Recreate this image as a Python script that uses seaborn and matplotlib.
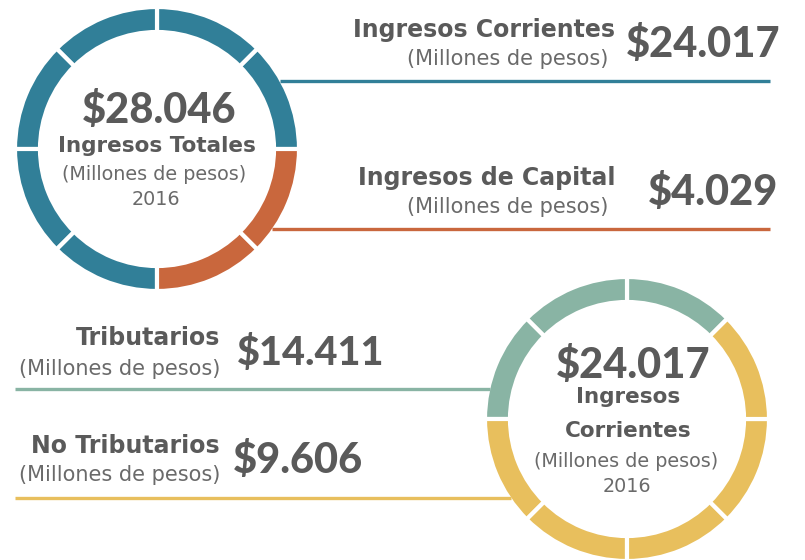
import numpy as np
import matplotlib
matplotlib.use("Agg")
import matplotlib.pyplot as plt
import seaborn as sns

total_valor = "$28.046"
corrientes_valor = "$24.017"
capital_valor = "$4.029"
tributarios_valor = "$14.411"
no_tributarios_valor = "$9.606"
anio = "2016"
unidad = "(Millones de pesos)"

# ring segments (8 per ring), counted from the start angle, anticlockwise
totales_colores = ["#317f98", "#c9673d"]          # Corrientes, Capital
totales_segmentos = [6, 2]
totales_inicio = 0
corrientes_colores = ["#89b4a4", "#e8bf5d"]       # Tributarios, No tributarios
corrientes_segmentos = [3, 5]
corrientes_inicio = 45

GRIS = "#5a5a5a"
GRIS_CLARO = "#6a6a6a"
H = 560

sns.set_theme(style="white")
plt.rcParams["font.family"] = ["DejaVu Sans"]
NUM_FONT = ["Lato", "DejaVu Sans"]

fig = plt.figure(figsize=(8.05, 5.6), dpi=100)
ax = fig.add_axes([0, 0, 1, 1])
ax.set_xlim(0, 805)
ax.set_ylim(0, H)
ax.set_aspect("equal")
ax.axis("off")


def anillo(cx, cy, colores, segmentos, inicio, r=142, ancho=25):
    cols = []
    for c, n in zip(colores, segmentos):
        cols += [c] * n
    ax.pie([1] * len(cols), colors=cols, startangle=inicio, counterclock=True,
           center=(cx, H - cy), radius=r, frame=True,
           wedgeprops=dict(width=ancho, edgecolor="white", linewidth=3))


def linea(x0, x1, y, color):
    ax.plot([x0, x1], [H - y, H - y], color=color, lw=2.4, solid_capstyle="butt", zorder=1)


def txt(x, y, s, size, bold=False, ha="center"):
    ax.text(x, H - y, s, fontsize=size, fontweight="bold" if bold else "normal",
            ha=ha, va="baseline", color=GRIS if bold else GRIS_CLARO)


def num(x, y, s, ha="center", size=30):
    ax.text(x, H - y, s, fontsize=size, fontweight="black", family=NUM_FONT,
            ha=ha, va="baseline", color=GRIS)


LBL, UNI = 17, 15          # side labels
LBL_C, UNI_C = 15.5, 13.8  # labels inside the rings

# top ring
c1x, c1y, R = 157, 149, 142
anillo(c1x, c1y, totales_colores, totales_segmentos, totales_inicio)
for y, col in [(81, totales_colores[0]), (229, totales_colores[1])]:
    linea(c1x + np.sqrt(R ** 2 - (y - c1y) ** 2) - 2, 770, y, col)

num(159, 123, total_valor)
txt(157, 152, "Ingresos Totales", LBL_C, bold=True)
txt(154, 180, unidad, UNI_C)
txt(156, 205, anio, UNI_C)

txt(615, 37, "Ingresos Corrientes", LBL, bold=True, ha="right")
txt(608, 65, unidad, UNI, ha="right")
num(780, 57, corrientes_valor, ha="right")
txt(615, 185, "Ingresos de Capital", LBL, bold=True, ha="right")
txt(608, 213, unidad, UNI, ha="right")
num(778, 205, capital_valor, ha="right")

# bottom ring
c2x, c2y = 627, 419
anillo(c2x, c2y, corrientes_colores, corrientes_segmentos, corrientes_inicio)
for y, col in [(389, corrientes_colores[0]), (498, corrientes_colores[1])]:
    linea(15, c2x - np.sqrt(R ** 2 - (y - c2y) ** 2) + 2, y, col)

num(633, 378, corrientes_valor)
txt(628, 403, "Ingresos", LBL_C, bold=True)
txt(628, 437, "Corrientes", LBL_C, bold=True)
txt(626, 467, unidad, UNI_C)
txt(627, 492, anio, UNI_C)

txt(220, 345, "Tributarios", LBL, bold=True, ha="right")
txt(220, 375, unidad, UNI, ha="right")
num(237, 365, tributarios_valor, ha="left", size=28.5)
txt(220, 453, "No Tributarios", LBL, bold=True, ha="right")
txt(220, 481, unidad, UNI, ha="right")
num(233, 473, no_tributarios_valor, ha="left")

ax.set_xlim(0, 805)
ax.set_ylim(0, H)
fig.savefig("out.png", dpi=100, facecolor="white")
